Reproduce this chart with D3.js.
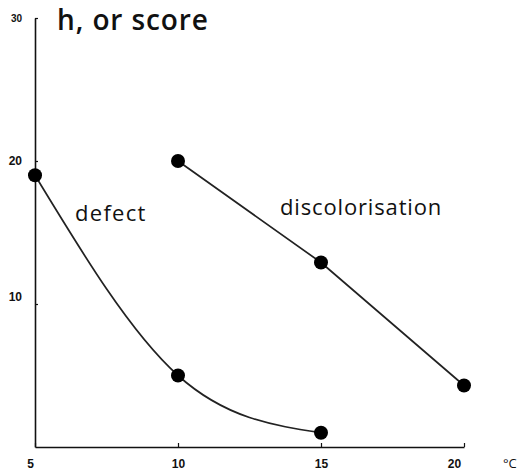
<!DOCTYPE html>
<html lang="en">
<head>
    <meta charset="UTF-8">
    <title>h, or score</title>
    <style>
        body { margin: 0; background: #fff; }
    </style>
</head>
<body>
    <script src="https://cdn.jsdelivr.net/npm/d3@7"></script>
    <svg id="mysvg" width="520" height="474"></svg>
    <script>
        // values
        var xTicks = [5, 10, 15, 20];
        var yTicks = [10, 20, 30];
        var defectTemp = [5, 10, 15];
        var defectScore = [19, 5, 1];
        var discolTemp = [10, 15, 20];
        var discolScore = [20, 12.9, 4.3];

        var svg = d3.select("#mysvg");

        var x = d3.scaleLinear().domain([5, 20]).range([35, 464]);
        var y = d3.scaleLinear().domain([0, 30]).range([447, 18]);

        // axes
        var xAxis = d3.axisBottom(x).tickValues(xTicks).tickSizeInner(-4).tickSizeOuter(0).tickPadding(12);
        var gx = svg.append("g").attr("transform", "translate(0," + y(0) + ")").call(xAxis);
        gx.select(".domain").attr("stroke", "#111").attr("stroke-width", 1.6);
        gx.selectAll(".tick line").attr("stroke", "#111").attr("stroke-width", 1.2);
        gx.selectAll(".tick text")
            .attr("font-family", "Liberation Sans, Arial, sans-serif")
            .attr("font-weight", "bold")
            .attr("font-size", 12)
            .attr("fill", "#111")
            .attr("dx", function(d) { return d === 20 ? -10 : (d === 5 ? -5 : 0); });

        var yAxis = d3.axisLeft(y).tickValues(yTicks).tickSizeInner(-3).tickSizeOuter(0).tickPadding(13);
        var gy = svg.append("g").attr("transform", "translate(" + x(5) + ",0)").call(yAxis);
        gy.select(".domain").attr("stroke", "#111").attr("stroke-width", 1.6);
        gy.selectAll(".tick line").attr("stroke", "#111").attr("stroke-width", 1.2);
        gy.selectAll(".tick text")
            .attr("font-family", "Liberation Sans, Arial, sans-serif")
            .attr("font-weight", "bold")
            .attr("font-size", function(d) { return d === 30 ? 10 : 12; })
            .attr("fill", "#111")
            .attr("dy", function(d) { return d === 10 ? "-0.3em" : "0.32em"; });

        // axis titles
        svg.append("text")
            .attr("x", 57).attr("y", 30)
            .attr("font-family", "Open Sans, sans-serif")
            .attr("font-size", 28)
            .attr("font-weight", 600)
            .attr("letter-spacing", 0.9)
            .attr("fill", "#111")
            .text("h, or score");

        svg.append("text")
            .attr("x", 503).attr("y", 468)
            .attr("font-family", "Open Sans, sans-serif")
            .attr("font-size", 13)
            .attr("fill", "#111")
            .text("\u00B0C");

        // series
        var defect = defectTemp.map(function(t, i) { return { t: t, v: defectScore[i] }; });
        var discol = discolTemp.map(function(t, i) { return { t: t, v: discolScore[i] }; });

        svg.append("path")
            .datum(defect)
            .attr("fill", "none").attr("stroke", "#222").attr("stroke-width", 1.7)
            .attr("d", d3.line().x(function(d) { return x(d.t); }).y(function(d) { return y(d.v); }).curve(d3.curveNatural));

        svg.append("path")
            .datum(discol)
            .attr("fill", "none").attr("stroke", "#222").attr("stroke-width", 1.7)
            .attr("d", d3.line().x(function(d) { return x(d.t); }).y(function(d) { return y(d.v); }));

        svg.selectAll("circle.pt")
            .data(defect.concat(discol))
            .enter().append("circle")
            .attr("class", "pt")
            .attr("cx", function(d) { return x(d.t); })
            .attr("cy", function(d) { return y(d.v); })
            .attr("r", 7)
            .attr("fill", "#000");

        // series labels
        svg.append("text")
            .attr("x", 75).attr("y", 221)
            .attr("font-family", "Open Sans, sans-serif")
            .attr("font-size", 22)
            .attr("letter-spacing", 1.3)
            .attr("fill", "#111")
            .text("defect");

        svg.append("text")
            .attr("x", 280).attr("y", 215)
            .attr("font-family", "Open Sans, sans-serif")
            .attr("font-size", 22)
            .attr("letter-spacing", 0.85)
            .attr("fill", "#111")
            .text("discolorisation");
    </script>
</body>
</html>
